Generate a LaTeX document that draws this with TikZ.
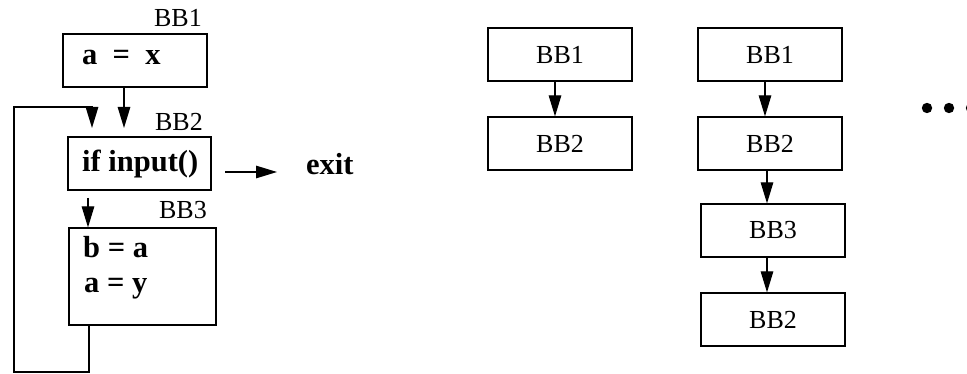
\documentclass[tikz,border=0pt]{standalone}
\usepackage{fontspec}
\setmainfont{Liberation Serif}
\usetikzlibrary{arrows.meta}
\begin{document}
\begin{tikzpicture}[x=1pt,y=-1pt,
  block/.style={draw, line width=1.2pt, inner sep=0pt,
    minimum width=144pt, minimum height=53pt,
    font=\fontsize{26}{30}\selectfont},
  code/.style={font=\fontsize{30.5}{34}\selectfont\bfseries, inner sep=0pt, anchor=base west},
  tag/.style={font=\fontsize{26}{30}\selectfont, inner sep=0pt, anchor=base east},
  wire/.style={line width=1.2pt},
  flow/.style={line width=1.2pt, -{Triangle[length=21pt,width=12.5pt]}}]
\useasboundingbox (0,0) rectangle (967,374);

% ---- loop in the original flow graph ----
\node[block] (L1) at (135,60.5) {};
\node[block, minimum width=143pt] (L2) at (139.5,163.5) {};
\node[block, minimum width=147pt, minimum height=97pt] (L3) at (142.5,276.5) {};

\node[tag] (t1) at (202,27) {BB1};
\node[tag] (t2) at (203,131) {BB2};
\node[tag] (t3) at (207,219) {BB3};

\node[code] (c1) at (82,65) {a\ \ =\ \ x};
\node[code] (c2) at (82,172) {if input()};
\node[code] (c3) at (83,258) {b = a};
\node[code] (c4) at (84,293) {a = y};
\node[code] (exit) at (306,175) {exit};

\coordinate (in12) at (124,128);
\coordinate (back) at (92,128);
\coordinate (s23) at (88,198);
\coordinate (x0) at (225,172);
\coordinate (x1) at (277,172);

\draw[flow] (L1.south -| in12) -- (in12);
\draw[flow] (L3.south -| 89,0) -- (89,372) -| (14,107) -| (back);
\draw[flow] (s23) -- (L3.north -| s23);
\draw[flow] (x0) -- (x1);

% ---- unrolled paths ----
\node[block] (M1) at (560,54.5) {BB1};
\node[block] (M2) at (560,143.5) {BB2};
\draw[flow] (M1.south -| 555,0) -- (M2.north -| 555,0);

\node[block] (R1) at (770,54.5) {BB1};
\node[block] (R2) at (770,143.5) {BB2};
\node[block] (R3) at (773,230.5) {BB3};
\node[block] (R4) at (773,319.5) {BB2};
\draw[flow] (R1.south -| 765,0) -- (R2.north -| 765,0);
\draw[flow] (R2.south -| 767,0) -- (R3.north -| 767,0);
\draw[flow] (R3.south -| 767,0) -- (R4.north -| 767,0);

% ---- ellipsis ----
\foreach \cx in {927,949,971}
  \fill (\cx,108) circle (5.2pt);
\end{tikzpicture}
\end{document}
